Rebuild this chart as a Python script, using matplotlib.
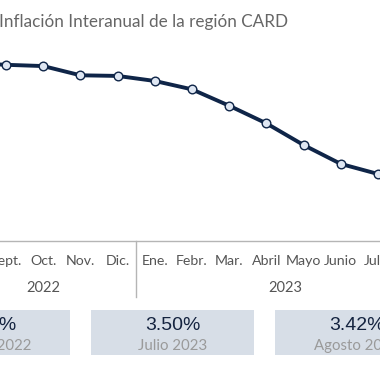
import matplotlib
matplotlib.use("Agg")
import matplotlib.pyplot as plt
from matplotlib.patches import Rectangle
from matplotlib.transforms import blended_transform_factory

# ---- data ----
months = ["Ago.", "Sept.", "Oct.", "Nov.", "Dic.", "Ene.", "Febr.", "Mar.",
          "Abril", "Mayo", "Junio", "Julio", "Ago."]
inflation = [8.79, 8.70, 8.64, 8.20, 8.17, 7.93, 7.53, 6.75, 5.91, 4.88, 3.98, 3.50, 3.42]
years = ["2022", "2023"]
year_groups = [(0, 4), (5, 12)]
box_values = ["8.79%", "3.50%", "3.42%"]
box_labels = ["Agosto 2022", "Julio 2023", "Agosto 2023"]
title = "Inflación Interanual de la región CARD"

W = H = 380
fig = plt.figure(figsize=(3.8, 3.8), dpi=100)
fig.patch.set_facecolor("white")

def fx(px):
    return px / W

def fy(py):
    return 1 - py / H

# main axes (wider than figure: chart is cropped on both sides)
ax_left, ax_right = -49.8, 433.8
ax_top, ax_bot = 40, 230
ax = fig.add_axes([fx(ax_left), fy(ax_bot), (ax_right - ax_left) / W, (ax_bot - ax_top) / H])
ax.set_xlim(-0.5, len(months) - 0.5)
ax.set_ylim(0.833, 9.881)
ax.axis("off")

x = list(range(len(months)))
ax.plot(x, inflation, color="#0f2548", lw=2.8, zorder=2, solid_capstyle="round")
ax.plot(x, inflation, ls="none", marker="o", ms=6.2, mfc="#dfe7f3", mec="#0f2548",
        mew=1.0, zorder=3)

fam = ["Lato", "DejaVu Sans"]
fig.text(fx(-1), fy(22), title, fontsize=12.3, color="#666666", family=fam,
         ha="left", va="center")

trans = blended_transform_factory(ax.transData, fig.transFigure)
for i, m in enumerate(months):
    ax.text(i, fy(261), m, transform=trans, ha="center", va="center",
            fontsize=10.2, color="#555555", family=fam, clip_on=False)
for yr, (a, b) in zip(years, year_groups):
    ax.text((a + b) / 2, fy(288), yr, transform=trans, ha="center", va="center",
            fontsize=10.5, color="#555555", family=fam, clip_on=False)

# axis frame lines
fig.add_artist(plt.Line2D([0, 1], [fy(241), fy(241)], color="#b5b5b5", lw=1.0,
                          transform=fig.transFigure))
for sep in [year_groups[0][1] + 0.5]:
    ax.plot([sep, sep], [fy(241), fy(297)], color="#b5b5b5", lw=1.0,
            transform=trans, clip_on=False)

# summary boxes
box_w, box_gap, box_x0 = 163, 21, -93
box_top, box_bot = 310, 355
for k, (v, lab) in enumerate(zip(box_values, box_labels)):
    x0 = box_x0 + k * (box_w + box_gap)
    fig.add_artist(Rectangle((fx(x0), fy(box_bot)), box_w / W, (box_bot - box_top) / H,
                             transform=fig.transFigure, facecolor="#d7dee7",
                             edgecolor="none"))
    cx = x0 + box_w / 2
    fig.text(fx(cx), fy(325), v, fontsize=14, color="#14233f",
             family=["Liberation Sans", "DejaVu Sans"], ha="center", va="center")
    fig.text(fx(cx), fy(346), lab, fontsize=10.8, color="#9a9a9a", family=fam,
             ha="center", va="center")

fig.savefig("out.png", dpi=100, facecolor="white")
